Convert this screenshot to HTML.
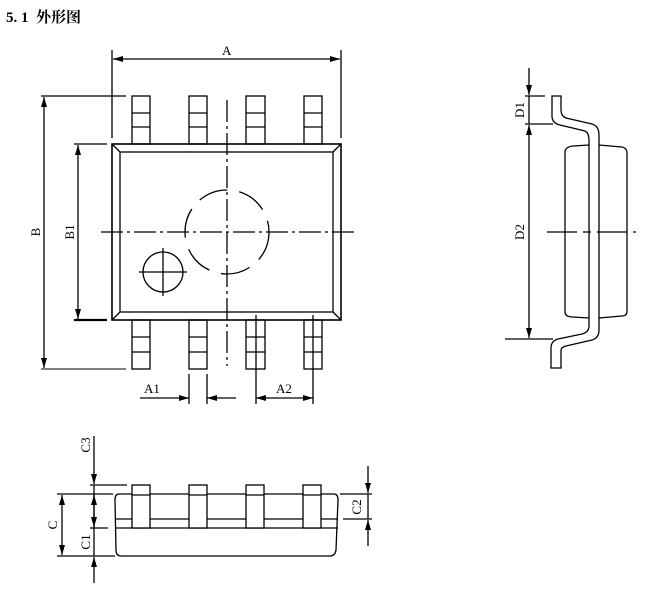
<!DOCTYPE html>
<html><head><meta charset="utf-8"><style>
html,body{margin:0;padding:0;background:#fff;}
svg{display:block;}
text{font-family:"Liberation Serif","Noto Serif CJK SC",serif;font-size:13px;fill:#000;}
</style></head><body>
<svg width="658" height="593" viewBox="0 0 658 593" xmlns="http://www.w3.org/2000/svg">
<defs>
<marker id="ar" viewBox="0 0 10 6" refX="10" refY="3" markerWidth="10" markerHeight="6" orient="auto" markerUnits="userSpaceOnUse"><path d="M0,0 L10,3 L0,6 z" fill="#000"/></marker>
</defs>
<text x="6" y="22" style="font-size:15px;font-weight:bold;font-family:'Liberation Serif','Noto Serif CJK SC',serif" xml:space="preserve">5. 1  外形图</text>
<g stroke="#000" fill="none" stroke-width="1.3">
<line x1="112" y1="50" x2="112" y2="138"/><line x1="341" y1="50" x2="341" y2="138"/>
<line x1="227" y1="59" x2="340" y2="59" marker-end="url(#ar)"/>
<line x1="227" y1="59" x2="113" y2="59" marker-end="url(#ar)"/>
<rect x="112" y="144" width="229" height="176" stroke-width="1.6"/>
<rect x="120" y="152" width="213" height="160"/>
<line x1="112" y1="144" x2="120" y2="152"/><line x1="341" y1="144" x2="333" y2="152"/>
<line x1="112" y1="320" x2="120" y2="312"/><line x1="341" y1="320" x2="333" y2="312"/>
<g>
<rect x="132" y="96" width="18" height="48"/><line x1="132" y1="113" x2="150" y2="113"/><line x1="132" y1="127" x2="150" y2="127"/>
<rect x="189" y="96" width="18" height="48"/><line x1="189" y1="113" x2="207" y2="113"/><line x1="189" y1="127" x2="207" y2="127"/>
<rect x="246" y="96" width="19" height="48"/><line x1="246" y1="113" x2="265" y2="113"/><line x1="246" y1="127" x2="265" y2="127"/>
<rect x="304" y="96" width="18" height="48"/><line x1="304" y1="113" x2="322" y2="113"/><line x1="304" y1="127" x2="322" y2="127"/>
<rect x="132" y="320" width="18" height="49"/><line x1="132" y1="337" x2="150" y2="337"/><line x1="132" y1="352" x2="150" y2="352"/>
<rect x="189" y="320" width="18" height="49"/><line x1="189" y1="337" x2="207" y2="337"/><line x1="189" y1="352" x2="207" y2="352"/>
<rect x="246" y="320" width="19" height="49"/><line x1="246" y1="337" x2="265" y2="337"/><line x1="246" y1="352" x2="265" y2="352"/>
<rect x="304" y="320" width="18" height="49"/><line x1="304" y1="337" x2="322" y2="337"/><line x1="304" y1="352" x2="322" y2="352"/>
</g>
<line x1="256" y1="315" x2="256" y2="404"/><line x1="313" y1="315" x2="313" y2="404"/>
<line x1="227" y1="100" x2="227" y2="366" stroke-dasharray="22,4,3,4"/>
<line x1="101" y1="232" x2="355" y2="232" stroke-dasharray="22,4,3,4"/>
<circle cx="227" cy="232" r="42" stroke-dasharray="30,12"/>
<circle cx="163" cy="272" r="20"/>
<line x1="139" y1="272" x2="187" y2="272"/><line x1="163" y1="248" x2="163" y2="296"/>
<line x1="41" y1="96" x2="126" y2="96"/><line x1="41" y1="369" x2="126" y2="369" stroke-width="1"/>
<line x1="44" y1="232" x2="44" y2="97" marker-end="url(#ar)"/><line x1="44" y1="232" x2="44" y2="368" marker-end="url(#ar)"/>
<line x1="74" y1="144" x2="107" y2="144"/><line x1="74" y1="320" x2="107" y2="320" stroke-width="2.2"/>
<line x1="78" y1="232" x2="78" y2="145" marker-end="url(#ar)"/><line x1="78" y1="232" x2="78" y2="319" marker-end="url(#ar)"/>
<line x1="189" y1="374" x2="189" y2="404"/><line x1="207" y1="374" x2="207" y2="404"/>
<line x1="140" y1="398" x2="189" y2="398" marker-end="url(#ar)"/><line x1="236" y1="398" x2="207" y2="398" marker-end="url(#ar)"/>
<line x1="284" y1="398" x2="256" y2="398" marker-end="url(#ar)"/><line x1="284" y1="398" x2="313" y2="398" marker-end="url(#ar)"/>
<path d="M552,96 L552,116 Q552,123 560,125 L585,131 Q589,133 589,140 L589,326 Q589,332 582,334 L558,339 Q551,341 551,348 L551,368 L561,368 L561,351 Q561,347 566,346 L592,340 Q599,338 599,330 L599,135 Q599,126 592,124 L566,118 Q561,116 561,110 L561,96 Z"/>
<path d="M589,145 L573,146 Q565,147 565,152 L565,312 Q565,317 573,317 L589,318"/>
<path d="M599,145 L622,147 Q627,148 627,153 L627,311 Q627,316 622,316 L599,318"/>
<line x1="547" y1="232" x2="636" y2="232" stroke-dasharray="30,6,8,6"/>
<line x1="525" y1="96" x2="545" y2="96"/><line x1="525" y1="124" x2="553" y2="124"/><line x1="505" y1="339" x2="553" y2="339"/>
<line x1="529" y1="68" x2="529" y2="95" marker-end="url(#ar)"/>
<line x1="529" y1="96" x2="529" y2="124"/>
<line x1="529" y1="232" x2="529" y2="125" marker-end="url(#ar)"/><line x1="529" y1="232" x2="529" y2="338" marker-end="url(#ar)"/>
<path d="M119,494 L334,494 Q338,494 338,500 L336,550 Q335,556 330,556 L121,556 Q116,556 116,550 L115,500 Q115,494 119,494 Z"/>
<line x1="115" y1="528" x2="338" y2="528"/>
<line x1="115" y1="519" x2="132" y2="519"/><line x1="150" y1="519" x2="189" y2="519"/><line x1="207" y1="519" x2="246" y2="519"/><line x1="264" y1="519" x2="303" y2="519"/><line x1="321" y1="519" x2="338" y2="519"/>
<g fill="#fff">
<rect x="132" y="485" width="18" height="43"/><rect x="189" y="485" width="18" height="43"/><rect x="246" y="485" width="18" height="43"/><rect x="303" y="485" width="18" height="43"/>
</g>
<line x1="132" y1="495" x2="150" y2="495"/><line x1="189" y1="495" x2="207" y2="495"/><line x1="246" y1="495" x2="264" y2="495"/><line x1="303" y1="495" x2="321" y2="495"/>
<line x1="57" y1="494" x2="113" y2="494"/><line x1="57" y1="556" x2="115" y2="556"/>
<line x1="90" y1="485" x2="127" y2="485"/><line x1="90" y1="528" x2="108" y2="528"/>
<line x1="62" y1="525" x2="62" y2="495" marker-end="url(#ar)"/><line x1="62" y1="525" x2="62" y2="555" marker-end="url(#ar)"/>
<line x1="94" y1="436" x2="94" y2="484" marker-end="url(#ar)"/>
<line x1="94" y1="485" x2="94" y2="528"/>
<line x1="94" y1="510" x2="94" y2="495" marker-end="url(#ar)"/><line x1="94" y1="510" x2="94" y2="527" marker-end="url(#ar)"/>
<line x1="94" y1="528" x2="94" y2="556"/>
<line x1="94" y1="583" x2="94" y2="557" marker-end="url(#ar)"/>
<line x1="340" y1="494" x2="372" y2="494"/><line x1="343" y1="519" x2="372" y2="519"/>
<line x1="368" y1="466" x2="368" y2="493" marker-end="url(#ar)"/>
<line x1="368" y1="494" x2="368" y2="519"/>
<line x1="368" y1="546" x2="368" y2="520" marker-end="url(#ar)"/>
</g>
<text x="222" y="55">A</text>
<text x="144" y="393">A1</text>
<text x="276" y="393">A2</text>
<text transform="translate(40,232) rotate(-90)" text-anchor="middle">B</text>
<text transform="translate(74,232) rotate(-90)" text-anchor="middle">B1</text>
<text transform="translate(524,110) rotate(-90)" text-anchor="middle">D1</text>
<text transform="translate(524,232) rotate(-90)" text-anchor="middle">D2</text>
<text transform="translate(57,525) rotate(-90)" text-anchor="middle">C</text>
<text transform="translate(90,445) rotate(-90)" text-anchor="middle">C3</text>
<text transform="translate(90,542) rotate(-90)" text-anchor="middle">C1</text>
<text transform="translate(361,507) rotate(-90)" text-anchor="middle">C2</text>
</svg>
</body></html>
